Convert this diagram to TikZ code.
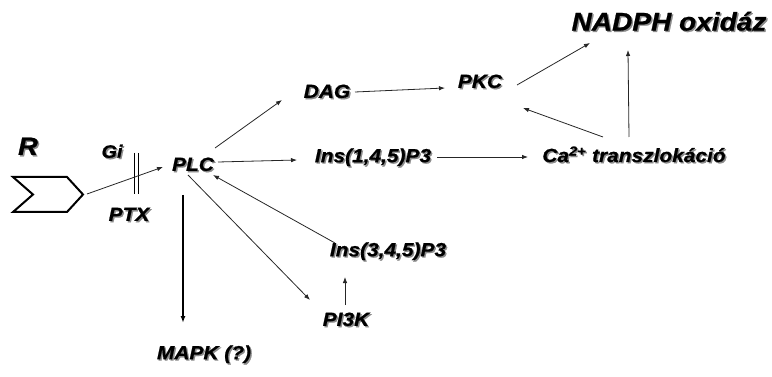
\documentclass[tikz,border=0pt]{standalone}
\usepackage{fontspec}
\setmainfont{Liberation Sans}
\newfontfamily\labfont{Liberation Sans}[FakeStretch=1.1, FakeBold=0.8]
\usetikzlibrary{arrows.meta}
\newcommand{\shtxt}[1]{\makebox[0pt][l]{\hspace{1.4pt}\raisebox{-1.4pt}{\textcolor{black!45}{#1}}}#1}
\tikzset{
  lab/.style={inner sep=0pt, font=\labfont\bfseries\itshape\fontsize{19}{22}\selectfont},
  big/.style={lab, font=\labfont\bfseries\itshape\fontsize{25.5}{28}\selectfont},
  bigr/.style={lab, font=\labfont\bfseries\itshape\fontsize{25}{28}\selectfont},
  small/.style={lab, font=\labfont\bfseries\itshape\fontsize{18}{21}\selectfont},
  arr/.style={line width=0.8pt, draw=black!85, -{Latex[length=6pt,width=4.5pt]}},
  thickarr/.style={line width=1.8pt, draw=black, -{Latex[length=7pt,width=5pt]}},
}
\begin{document}
\begin{tikzpicture}[x=1pt,y=-1pt]
\useasboundingbox (0,0) rectangle (772,377);
% receptor
\draw[line width=2pt, line join=miter] (13,177) -- (67,177) -- (83,194.5) -- (67,212) -- (13,212) -- (33,194.5) -- cycle;
\coordinate (rtip) at (87,194);
% nodes
\node[bigr] (r) at (28,147) {\shtxt{R}};
\node[small] (gi) at (112,152) {\shtxt{Gi}};
\node[lab] (ptx) at (129,215) {\shtxt{PTX}};
\node[lab] (plc) at (193,165) {\shtxt{PLC}};
\node[lab] (dag) at (327,92) {\shtxt{DAG}};
\node[lab] (pkc) at (480,82) {\shtxt{PKC}};
\node[big] (nadph) at (669,22) {\shtxt{NADPH oxidáz}};
\node[lab] (ins145) at (373,158) {\shtxt{Ins(1,4,5)P3}};
\node[lab] (ca) at (634,155) {\shtxt{Ca\textsuperscript{2+} transzlokáció}};
\node[lab] (ins345) at (388,252) {\shtxt{Ins(3,4,5)P3}};
\node[lab] (pi3k) at (346,320) {\shtxt{PI3K}};
\node[lab] (mapk) at (204,355) {\shtxt{MAPK (?)}};
% PTX block (double bar)
\draw[line width=0.9pt] (134,153) -- (134,194);
\draw[line width=0.9pt] (138.5,153) -- (138.5,194);
% connectors
\draw[arr] (rtip) -- ([shift={(-30,2)}]plc.center);
\draw[arr] ([shift={(22,-17)}]plc.center) -- ([shift={(-45,8)}]dag.center);
\draw[arr] ([shift={(28,0)}]dag.center) -- ([shift={(-35,6)}]pkc.center);
\draw[arr] ([shift={(37,3)}]pkc.center) -- ([shift={(-79,21)}]nadph.center);
\draw[arr] ([shift={(-31,-18)}]ca.center) -- ([shift={(43,26)}]pkc.center);
\draw[arr] ([shift={(-5,-18)}]ca.center) -- ([shift={(-41,28)}]nadph.center);
\draw[arr] ([shift={(25,-3)}]plc.center) -- ([shift={(-76,2)}]ins145.center);
\draw[arr] ([shift={(64,-1)}]ins145.center) -- ([shift={(-106,2)}]ca.center);
\draw[arr] ([shift={(-53,-9)}]ins345.center) -- ([shift={(20,10)}]plc.center);
\draw[arr] ([shift={(-5,10)}]plc.center) -- ([shift={(-36,-20)}]pi3k.center);
\draw[arr] ([shift={(-1,-15)}]pi3k.center) -- ([shift={(-43,25)}]ins345.center);
\draw[thickarr] ([shift={(-10,30)}]plc.center) -- ([shift={(-21,-32)}]mapk.center);
\end{tikzpicture}
\end{document}
